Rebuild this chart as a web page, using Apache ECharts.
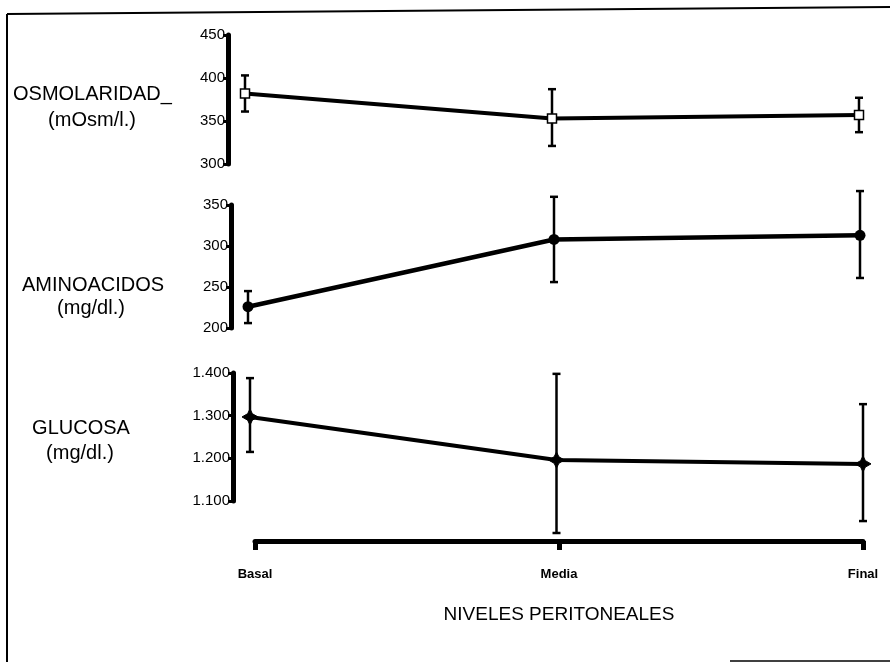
<!DOCTYPE html>
<html>
<head>
<meta charset="utf-8">
<script src="https://cdn.jsdelivr.net/npm/echarts@6/dist/echarts.min.js"></script>
<style>
  html, body { margin: 0; padding: 0; background: #fff; }
  #chart { width: 890px; height: 662px; }
</style>
</head>
<body>
<div id="chart"></div>
<script>
var niveles = ['Basal', 'Media', 'Final'];

// valores (media y extremos de la barra de error)
var osmoMedia = [382, 353, 357];
var osmoBajo  = [361, 321, 337];
var osmoAlto  = [403, 387, 377];

var aminoMedia = [226, 308, 313];
var aminoBajo  = [206, 256, 261];
var aminoAlto  = [245, 360, 367];

var glucMedia = [1297, 1196, 1187];
var glucBajo  = [1215, 1025, 1053];
var glucAlto  = [1388, 1398, 1327];

var FONT = 'Liberation Sans';
var myChart = echarts.init(document.getElementById('chart'));

function barras(bajo, alto) {
    return bajo.map(function (v, i) { return [i, v, alto[i]]; });
}

function renderError(params, api) {
    var top = api.coord([api.value(0), api.value(2)]);
    var bot = api.coord([api.value(0), api.value(1)]);
    var w = 4;
    var st = { stroke: '#000', lineWidth: 2.5 };
    return {
        type: 'group',
        children: [
            { type: 'line', shape: { x1: top[0], y1: top[1], x2: bot[0], y2: bot[1] }, style: st },
            { type: 'line', shape: { x1: top[0] - w, y1: top[1], x2: top[0] + w, y2: top[1] }, style: st },
            { type: 'line', shape: { x1: bot[0] - w, y1: bot[1], x2: bot[0] + w, y2: bot[1] }, style: st }
        ]
    };
}

function ejeY(idx, min, max, step, fmt) {
    return {
        type: 'value',
        gridIndex: idx,
        min: min,
        max: max,
        interval: step,
        offset: 17,
        splitLine: { show: false },
        axisLine: { show: true, lineStyle: { color: '#000', width: 5 } },
        axisTick: { show: true, length: 5, lineStyle: { color: '#000', width: 3 } },
        axisLabel: { color: '#000', fontFamily: FONT, fontSize: 15, margin: 3, formatter: fmt }
    };
}

function ejeX(idx) {
    return {
        type: 'category',
        gridIndex: idx,
        data: niveles,
        boundaryGap: false,
        show: false
    };
}

var estrella = 'path://M10,0 L13,6 L20,10 L13,14 L10,20 L7,14 L0,10 L7,6 Z';

option = {
    animation: false,
    backgroundColor: '#fff',
    grid: [
        { left: 245, right: 31, top: 35, height: 129 },
        { left: 248, right: 30, top: 205, height: 123 },
        { left: 250, right: 27, top: 373, height: 128 },
        { left: 255, right: 27, top: 540, height: 1 }
    ],
    xAxis: [
        ejeX(0), ejeX(1), ejeX(2),
        {
            type: 'category',
            gridIndex: 3,
            data: niveles,
            boundaryGap: false,
            axisLine: { show: true, lineStyle: { color: '#000', width: 5 } },
            axisTick: { show: true, inside: false, length: 9, lineStyle: { color: '#000', width: 5 } },
            axisLabel: { color: '#000', fontFamily: FONT, fontSize: 13, fontWeight: 'bold', margin: 27 },
            name: 'NIVELES PERITONEALES',
            nameLocation: 'middle',
            nameGap: 64,
            nameTextStyle: { color: '#000', fontFamily: FONT, fontSize: 19 }
        }
    ],
    yAxis: [
        ejeY(0, 300, 450, 50),
        ejeY(1, 200, 350, 50),
        ejeY(2, 1100, 1400, 100, function (v) { return (v / 1000).toFixed(3); }),
        { type: 'value', gridIndex: 3, show: false }
    ],
    series: [
        {
            type: 'custom', xAxisIndex: 0, yAxisIndex: 0, clip: false, z: 2,
            renderItem: renderError, data: barras(osmoBajo, osmoAlto)
        },
        {
            type: 'line', xAxisIndex: 0, yAxisIndex: 0, z: 3,
            data: osmoMedia,
            symbol: 'rect', symbolSize: 9,
            lineStyle: { color: '#000', width: 4 },
            itemStyle: { color: '#fff', borderColor: '#000', borderWidth: 1.5 }
        },
        {
            type: 'custom', xAxisIndex: 1, yAxisIndex: 1, clip: false, z: 2,
            renderItem: renderError, data: barras(aminoBajo, aminoAlto)
        },
        {
            type: 'line', xAxisIndex: 1, yAxisIndex: 1, z: 3,
            data: aminoMedia,
            symbol: 'circle', symbolSize: 11,
            lineStyle: { color: '#000', width: 4.5 },
            itemStyle: { color: '#000' }
        },
        {
            type: 'custom', xAxisIndex: 2, yAxisIndex: 2, clip: false, z: 2,
            renderItem: renderError, data: barras(glucBajo, glucAlto)
        },
        {
            type: 'line', xAxisIndex: 2, yAxisIndex: 2, z: 3,
            data: glucMedia,
            symbol: estrella, symbolSize: 16, showSymbol: true,
            lineStyle: { color: '#000', width: 4 },
            itemStyle: { color: '#000', borderColor: '#000', borderWidth: 1 }
        }
    ],
    graphic: [
        { type: 'line', shape: { x1: 7, y1: 14, x2: 890, y2: 7 }, style: { stroke: '#000', lineWidth: 2 } },
        { type: 'line', shape: { x1: 7, y1: 14, x2: 7, y2: 662 }, style: { stroke: '#000', lineWidth: 2 } },
        { type: 'line', shape: { x1: 730, y1: 661, x2: 890, y2: 661 }, style: { stroke: '#000', lineWidth: 1.5 } },
        { type: 'text', left: 13, top: 84, style: { text: 'OSMOLARIDAD_', font: '20px ' + FONT, fill: '#000' } },
        { type: 'text', x: 92, y: 120, style: { text: '(mOsm/l.)', font: '20px ' + FONT, fill: '#000', align: 'center', verticalAlign: 'middle' } },
        { type: 'text', x: 93, y: 285, style: { text: 'AMINOACIDOS', font: '20px ' + FONT, fill: '#000', align: 'center', verticalAlign: 'middle' } },
        { type: 'text', x: 91, y: 308, style: { text: '(mg/dl.)', font: '20px ' + FONT, fill: '#000', align: 'center', verticalAlign: 'middle' } },
        { type: 'text', x: 81, y: 428, style: { text: 'GLUCOSA', font: '20px ' + FONT, fill: '#000', align: 'center', verticalAlign: 'middle' } },
        { type: 'text', x: 80, y: 453, style: { text: '(mg/dl.)', font: '20px ' + FONT, fill: '#000', align: 'center', verticalAlign: 'middle' } }
    ]
};
myChart.setOption(option);
</script>
</body>
</html>
